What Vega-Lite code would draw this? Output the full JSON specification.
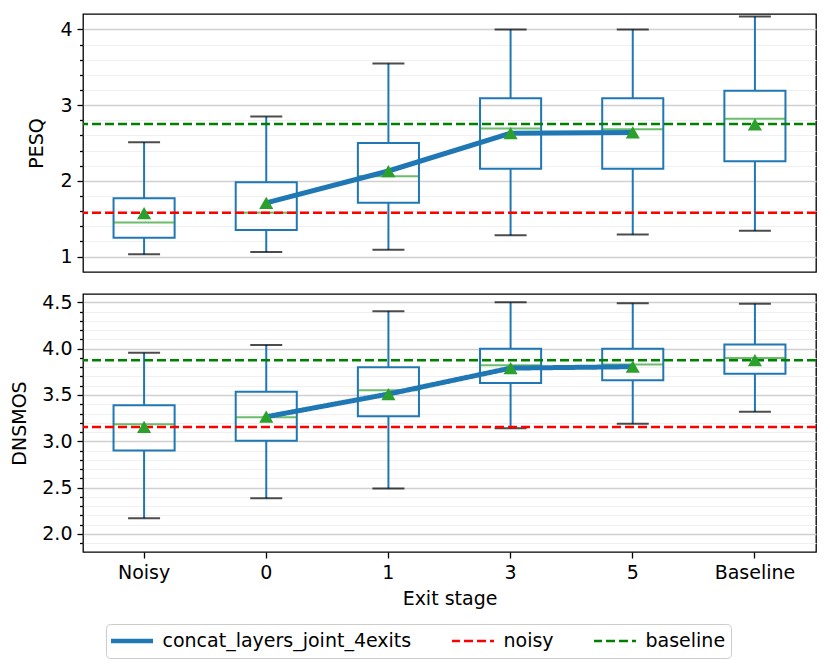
{
  "$schema": "https://vega.github.io/schema/vega-lite/v6.json",
  "padding": {"left": 10, "top": 13, "right": 5, "bottom": 5},
  "config": {
    "font": "DejaVu Sans",
    "view": {"stroke": "#000000", "strokeWidth": 1.3},
    "axis": {
      "domain": false,
      "labelFont": "DejaVu Sans",
      "labelFontSize": 19,
      "labelColor": "#000000",
      "titleFont": "DejaVu Sans",
      "titleFontSize": 19,
      "titleFontWeight": "normal",
      "titleColor": "#000000",
      "tickColor": "#000000",
      "tickWidth": 1.3
    },
    "legend": {
      "labelFont": "DejaVu Sans",
      "labelFontSize": 19,
      "labelColor": "#000000"
    }
  },
  "datasets": {
    "pesq": [
      {"stage": "Noisy", "lower": 1.03, "q1": 1.25, "median": 1.45, "q3": 1.77, "upper": 2.51, "mean": 1.575},
      {"stage": "0", "lower": 1.06, "q1": 1.35, "median": 1.58, "q3": 1.98, "upper": 2.85, "mean": 1.71},
      {"stage": "1", "lower": 1.09, "q1": 1.71, "median": 2.06, "q3": 2.5, "upper": 3.55, "mean": 2.13},
      {"stage": "3", "lower": 1.28, "q1": 2.16, "median": 2.69, "q3": 3.09, "upper": 4.0, "mean": 2.63},
      {"stage": "5", "lower": 1.29, "q1": 2.16, "median": 2.68, "q3": 3.09, "upper": 4.0, "mean": 2.64},
      {"stage": "Baseline", "lower": 1.34, "q1": 2.26, "median": 2.82, "q3": 3.19, "upper": 4.17, "mean": 2.745}
    ],
    "dnsmos": [
      {"stage": "Noisy", "lower": 2.17, "q1": 2.9, "median": 3.185, "q3": 3.39, "upper": 3.955, "mean": 3.155},
      {"stage": "0", "lower": 2.385, "q1": 3.005, "median": 3.26, "q3": 3.535, "upper": 4.04, "mean": 3.265},
      {"stage": "1", "lower": 2.49, "q1": 3.27, "median": 3.55, "q3": 3.8, "upper": 4.405, "mean": 3.51},
      {"stage": "3", "lower": 3.14, "q1": 3.63, "median": 3.82, "q3": 4.0, "upper": 4.5, "mean": 3.79},
      {"stage": "5", "lower": 3.19, "q1": 3.66, "median": 3.83, "q3": 4.0, "upper": 4.49, "mean": 3.805},
      {"stage": "Baseline", "lower": 3.32, "q1": 3.73, "median": 3.9, "q3": 4.045, "upper": 4.485, "mean": 3.875}
    ],
    "pesq_ref": [
      {"series": "noisy", "value": 1.58},
      {"series": "baseline", "value": 2.75}
    ],
    "dnsmos_ref": [
      {"series": "noisy", "value": 3.155},
      {"series": "baseline", "value": 3.875}
    ],
    "pesq_line": [
      {"series": "concat_layers_joint_4exits", "stage": "0", "value": 1.71},
      {"series": "concat_layers_joint_4exits", "stage": "1", "value": 2.13},
      {"series": "concat_layers_joint_4exits", "stage": "3", "value": 2.63},
      {"series": "concat_layers_joint_4exits", "stage": "5", "value": 2.64}
    ],
    "dnsmos_line": [
      {"series": "concat_layers_joint_4exits", "stage": "0", "value": 3.265},
      {"series": "concat_layers_joint_4exits", "stage": "1", "value": 3.51},
      {"series": "concat_layers_joint_4exits", "stage": "3", "value": 3.79},
      {"series": "concat_layers_joint_4exits", "stage": "5", "value": 3.805}
    ]
  },
  "spacing": 19,
  "resolve": {
    "scale": {"x": "independent", "y": "independent", "stroke": "independent", "strokeDash": "independent"},
    "legend": {"stroke": "independent", "strokeDash": "independent"}
  },
  "vconcat": [
    {
      "width": 733,
      "height": 258,
      "layer": [
        {
          "data": {"name": "pesq"},
          "mark": {"type": "rule", "color": "#1f77b4", "strokeWidth": 2},
          "encoding": {
            "x": {"field": "stage", "type": "nominal", "scale": {"type": "band", "domain": ["Noisy", "0", "1", "3", "5", "Baseline"], "paddingInner": 0, "paddingOuter": 0}, "axis": null},
            "y": {
              "field": "lower", "type": "quantitative", "title": "PESQ",
              "scale": {"domain": [0.796, 4.204], "nice": false, "zero": false},
              "axis": {
                "values": [1, 1.2, 1.4, 1.6, 1.8, 2, 2.2, 2.4, 2.6, 2.8, 3, 3.2, 3.4, 3.6, 3.8, 4],
                "tickCount": 100,
                "labelExpr": "abs(datum.value - round(datum.value)) < 0.001 ? format(datum.value, 'd') : ''",
                "labelOverlap": false,
                "labelFlush": false,
                "labelPadding": 5,
                "titlePadding": 13,
                "tickSize": {"condition": {"test": "abs(datum.value - round(datum.value)) < 0.001", "value": 6}, "value": 3.5},
                "grid": true,
                "gridColor": {"condition": {"test": "abs(datum.value - round(datum.value)) < 0.001", "value": "#d0d0d0"}, "value": "#f0f0f0"},
                "gridWidth": {"condition": {"test": "abs(datum.value - round(datum.value)) < 0.001", "value": 1.5}, "value": 1}
              }
            },
            "y2": {"field": "q1"}
          }
        },
        {
          "data": {"name": "pesq"},
          "mark": {"type": "rule", "color": "#1f77b4", "strokeWidth": 2},
          "encoding": {
            "x": {"field": "stage", "type": "nominal"},
            "y": {"field": "q3", "type": "quantitative", "title": "PESQ"},
            "y2": {"field": "upper"}
          }
        },
        {
          "data": {"name": "pesq"},
          "mark": {"type": "tick", "color": "#000000", "size": 32, "thickness": 2, "orient": "horizontal"},
          "encoding": {
            "x": {"field": "stage", "type": "nominal"},
            "y": {"field": "lower", "type": "quantitative", "title": "PESQ"}
          }
        },
        {
          "data": {"name": "pesq"},
          "mark": {"type": "tick", "color": "#000000", "size": 32, "thickness": 2, "orient": "horizontal"},
          "encoding": {
            "x": {"field": "stage", "type": "nominal"},
            "y": {"field": "upper", "type": "quantitative", "title": "PESQ"}
          }
        },
        {
          "data": {"name": "pesq"},
          "mark": {"type": "bar", "fill": null, "fillOpacity": 0, "stroke": "#1f77b4", "strokeWidth": 2, "width": {"band": 0.5}},
          "encoding": {
            "x": {"field": "stage", "type": "nominal"},
            "y": {"field": "q1", "type": "quantitative", "title": "PESQ"},
            "y2": {"field": "q3"}
          }
        },
        {
          "data": {"name": "pesq"},
          "mark": {"type": "tick", "color": "#2ca02c", "size": 61, "thickness": 2, "orient": "horizontal"},
          "encoding": {
            "x": {"field": "stage", "type": "nominal"},
            "y": {"field": "median", "type": "quantitative", "title": "PESQ"}
          }
        },
        {
          "data": {"name": "pesq_ref"},
          "mark": {"type": "rule", "strokeWidth": 2.5},
          "encoding": {
            "y": {"field": "value", "type": "quantitative", "title": "PESQ"},
            "stroke": {"field": "series", "type": "nominal", "scale": {"domain": ["concat_layers_joint_4exits", "noisy", "baseline"], "range": ["#1f77b4", "#ff0000", "#008000"]}, "legend": null},
            "strokeDash": {"field": "series", "type": "nominal", "scale": {"domain": ["concat_layers_joint_4exits", "noisy", "baseline"], "range": [[1, 0], [9, 4], [9, 4]]}, "legend": null}
          }
        },
        {
          "data": {"name": "pesq_line"},
          "mark": {"type": "line", "strokeWidth": 5},
          "encoding": {
            "x": {"field": "stage", "type": "nominal"},
            "y": {"field": "value", "type": "quantitative", "title": "PESQ"},
            "stroke": {"field": "series", "type": "nominal", "legend": null}
          }
        },
        {
          "data": {"name": "pesq"},
          "mark": {"type": "point", "shape": "triangle-up", "filled": true, "color": "#2ca02c", "opacity": 1, "size": 200},
          "encoding": {
            "x": {"field": "stage", "type": "nominal"},
            "y": {"field": "mean", "type": "quantitative", "title": "PESQ"}
          }
        }
      ]
    },
    {
      "width": 733,
      "height": 258,
      "layer": [
        {
          "data": {"name": "dnsmos"},
          "mark": {"type": "rule", "color": "#1f77b4", "strokeWidth": 2},
          "encoding": {
            "x": {
              "field": "stage", "type": "nominal", "title": "Exit stage",
              "scale": {"type": "band", "domain": ["Noisy", "0", "1", "3", "5", "Baseline"], "paddingInner": 0, "paddingOuter": 0},
              "axis": {"labelAngle": 0, "tickSize": 6, "labelPadding": 5, "titlePadding": 7, "grid": false}
            },
            "y": {
              "field": "lower", "type": "quantitative", "title": "DNSMOS",
              "scale": {"domain": [1.805, 4.59], "nice": false, "zero": false},
              "axis": {
                "values": [1.9, 2.0, 2.1, 2.2, 2.3, 2.4, 2.5, 2.6, 2.7, 2.8, 2.9, 3.0, 3.1, 3.2, 3.3, 3.4, 3.5, 3.6, 3.7, 3.8, 3.9, 4.0, 4.1, 4.2, 4.3, 4.4, 4.5],
                "tickCount": 100,
                "labelExpr": "abs(datum.value * 2 - round(datum.value * 2)) < 0.001 ? format(datum.value, '.1f') : ''",
                "labelOverlap": false,
                "labelFlush": false,
                "labelPadding": 5,
                "titlePadding": 12,
                "tickSize": {"condition": {"test": "abs(datum.value * 2 - round(datum.value * 2)) < 0.001", "value": 6}, "value": 3.5},
                "grid": true,
                "gridColor": {"condition": {"test": "abs(datum.value * 2 - round(datum.value * 2)) < 0.001", "value": "#d0d0d0"}, "value": "#f0f0f0"},
                "gridWidth": {"condition": {"test": "abs(datum.value * 2 - round(datum.value * 2)) < 0.001", "value": 1.5}, "value": 1}
              }
            },
            "y2": {"field": "q1"}
          }
        },
        {
          "data": {"name": "dnsmos"},
          "mark": {"type": "rule", "color": "#1f77b4", "strokeWidth": 2},
          "encoding": {
            "x": {"field": "stage", "type": "nominal", "title": "Exit stage"},
            "y": {"field": "q3", "type": "quantitative", "title": "DNSMOS"},
            "y2": {"field": "upper"}
          }
        },
        {
          "data": {"name": "dnsmos"},
          "mark": {"type": "tick", "color": "#000000", "size": 32, "thickness": 2, "orient": "horizontal"},
          "encoding": {
            "x": {"field": "stage", "type": "nominal", "title": "Exit stage"},
            "y": {"field": "lower", "type": "quantitative", "title": "DNSMOS"}
          }
        },
        {
          "data": {"name": "dnsmos"},
          "mark": {"type": "tick", "color": "#000000", "size": 32, "thickness": 2, "orient": "horizontal"},
          "encoding": {
            "x": {"field": "stage", "type": "nominal", "title": "Exit stage"},
            "y": {"field": "upper", "type": "quantitative", "title": "DNSMOS"}
          }
        },
        {
          "data": {"name": "dnsmos"},
          "mark": {"type": "bar", "fill": null, "fillOpacity": 0, "stroke": "#1f77b4", "strokeWidth": 2, "width": {"band": 0.5}},
          "encoding": {
            "x": {"field": "stage", "type": "nominal", "title": "Exit stage"},
            "y": {"field": "q1", "type": "quantitative", "title": "DNSMOS"},
            "y2": {"field": "q3"}
          }
        },
        {
          "data": {"name": "dnsmos"},
          "mark": {"type": "tick", "color": "#2ca02c", "size": 61, "thickness": 2, "orient": "horizontal"},
          "encoding": {
            "x": {"field": "stage", "type": "nominal", "title": "Exit stage"},
            "y": {"field": "median", "type": "quantitative", "title": "DNSMOS"}
          }
        },
        {
          "data": {"name": "dnsmos_ref"},
          "mark": {"type": "rule", "strokeWidth": 2.5},
          "encoding": {
            "y": {"field": "value", "type": "quantitative", "title": "DNSMOS"},
            "stroke": {
              "field": "series", "type": "nominal", "title": "series",
              "scale": {"domain": ["concat_layers_joint_4exits", "noisy", "baseline"], "range": ["#1f77b4", "#ff0000", "#008000"]},
              "legend": {
                "title": null,
                "orient": "none",
                "legendX": 23,
                "legendY": 330,
                "direction": "horizontal",
                "symbolType": "stroke",
                "symbolSize": 1849,
                "symbolStrokeWidth": 2.5,
                "symbolOffset": -2.5,
                "labelOffset": 8,
                "labelLimit": 500,
                "columnPadding": 40,
                "clipHeight": 24,
                "padding": 5,
                "strokeColor": "#cccccc",
                "fillColor": "#ffffff",
                "cornerRadius": 4,
                "encode": {
                  "symbols": {
                    "update": {
                      "strokeWidth": {"signal": "(datum.value === 'concat_layers_joint_4exits' ? 4.5 : 2.5)"}
                    }
                  }
                }
              }
            },
            "strokeDash": {
              "field": "series", "type": "nominal", "title": "series",
              "scale": {"domain": ["concat_layers_joint_4exits", "noisy", "baseline"], "range": [[1, 0], [9, 4], [9, 4]]}
            }
          }
        },
        {
          "data": {"name": "dnsmos_line"},
          "mark": {"type": "line", "strokeWidth": 5},
          "encoding": {
            "x": {"field": "stage", "type": "nominal", "title": "Exit stage"},
            "y": {"field": "value", "type": "quantitative", "title": "DNSMOS"},
            "stroke": {"field": "series", "type": "nominal", "title": "series"},
            "strokeDash": {"field": "series", "type": "nominal", "title": "series"}
          }
        },
        {
          "data": {"name": "dnsmos"},
          "mark": {"type": "point", "shape": "triangle-up", "filled": true, "color": "#2ca02c", "opacity": 1, "size": 200},
          "encoding": {
            "x": {"field": "stage", "type": "nominal", "title": "Exit stage"},
            "y": {"field": "mean", "type": "quantitative", "title": "DNSMOS"}
          }
        }
      ]
    }
  ]
}
